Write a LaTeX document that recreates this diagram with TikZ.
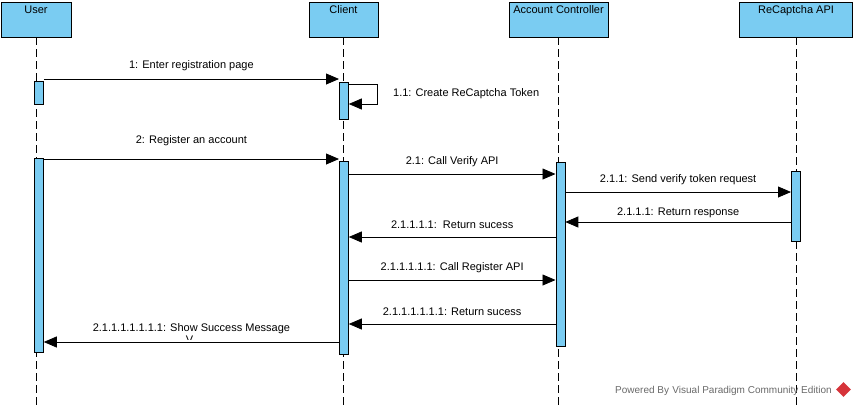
\documentclass[tikz,border=0pt]{standalone}
\usepackage{fontspec}
\setmainfont{Liberation Sans}
\usetikzlibrary{arrows.meta,shapes.geometric}
\definecolor{lifeblue}{RGB}{122,204,242}
\definecolor{wmgray}{RGB}{105,105,105}
\definecolor{vpred}{RGB}{214,52,58}
\tikzstyle{actor}=[draw,fill=lifeblue,line width=0.8pt,inner sep=0pt,anchor=north,text height=12pt,text depth=23pt]
\tikzstyle{life}=[line width=0.8pt,dash pattern=on 8pt off 4pt]
\tikzstyle{act}=[draw,fill=lifeblue,line width=0.8pt,inner sep=0pt,minimum width=9pt,anchor=north west]
\tikzstyle{msg}=[line width=0.8pt,-{Triangle[length=13pt,width=11pt]}]
\tikzstyle{msglabel}=[midway,anchor=base,inner sep=0pt]
\tikzstyle{wm}=[text=wmgray,font=\fontsize{10}{11}\selectfont,inner sep=0pt]

\begin{document}
\begin{tikzpicture}[x=1pt,y=-1pt,font=\fontsize{11}{13}\selectfont]
\useasboundingbox (0,0) rectangle (855,407);
% header boxes and lifelines
\foreach \place/\name/\w/\txt in
{ {(36,1.5)/user/70/User}, {(343.5,1.5)/client/69/Client}, {(558.5,1.5)/ctrl/99/Account Controller}, {(796,1.5)/recap/113/ReCaptcha API}}
    \node[actor,minimum width=\w pt] (\name) at \place {\txt};
\foreach \name in {user,client,ctrl,recap}{
    \coordinate (\name-end) at (\name.south |- 0,407);
    \draw[life] (\name.south) -- (\name-end);
}
% activations
\foreach \name/\x/\top/\bot in {u1/34/81/104, c1/339/82/119, u2/34/158/352, c2/339/161/354, ctl/555.5/162/346, rc/791/171/241}{
    \pgfmathsetmacro\h{\bot-\top}
    \node[act,minimum height=\h pt] (\name) at (\x,\top) {};
}
% messages
\foreach \src/\dst/\y/\lift/\txt in
{ u1.east/c1.west/79/11/1: Enter registration page,
  u2.east/c2.west/159/16/2: Register an account,
  c2.east/ctl.west/174/10/2.1: Call Verify API,
  ctl.east/rc.west/192/10/2.1.1: Send verify token request,
  rc.west/ctl.east/222/7/2.1.1.1: Return response,
  ctl.west/c2.east/237/9/2.1.1.1.1:\ \ Return sucess,
  c2.east/ctl.west/280/10/2.1.1.1.1.1: Call Register API,
  ctl.west/c2.east/324/9/2.1.1.1.1.1.1: Return sucess,
  c2.west/u2.east/342/11/2.1.1.1.1.1.1.1: Show Success Message}
    \draw[msg] (\src |- 0,\y) -- node[msglabel,yshift=\lift pt] {\txt} (\dst |- 0,\y);
% self call
\draw[msg] (c1.east |- 0,84) -- ++(29,0) -- ++(0,20) -- (c1.east |- 0,104);
\node[anchor=base west,inner sep=0pt] (selfcall) at (393,96) {1.1: Create ReCaptcha Token};
\begin{scope}
  \clip (180,333) rectangle (200,339.5);
  \node[anchor=base,inner sep=0pt] (cutv) at (189.5,343) {V};
\end{scope}
% watermark
\node[wm,anchor=base east] (powered) at (832,393) {Powered By\,\,Visual Paradigm Community Edition};
\node[diamond,fill=vpred,minimum size=15pt,inner sep=0pt] (logo) at (843.5,389.5) {};
\end{tikzpicture}
\end{document}
